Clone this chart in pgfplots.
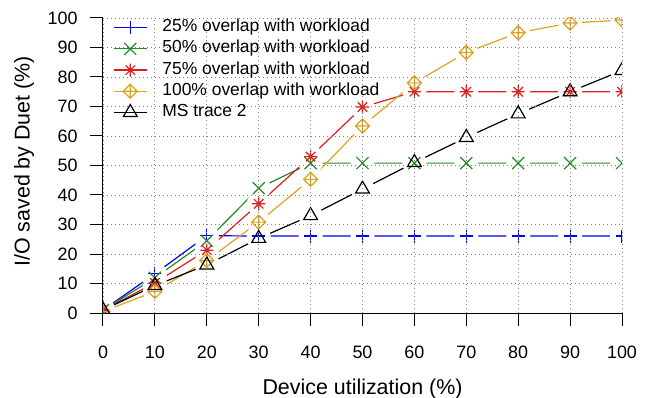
\documentclass[border=0pt]{standalone}
\usepackage{pgfplots}
\usepackage{pgfplotstable}
\pgfplotsset{compat=1.18}
\usepackage{fontspec}
\setmainfont{Liberation Sans}
\usetikzlibrary{plotmarks}

\definecolor{cblue}{RGB}{0,0,255}
\definecolor{cgreen}{RGB}{34,139,34}
\definecolor{cred}{RGB}{220,30,30}
\definecolor{cgold}{RGB}{218,165,32}

\pgfdeclareplotmark{dplus}{%
  \pgfpathmoveto{\pgfqpoint{0pt}{\pgfplotmarksize}}%
  \pgfpathlineto{\pgfqpoint{\pgfplotmarksize}{0pt}}%
  \pgfpathlineto{\pgfqpoint{0pt}{-\pgfplotmarksize}}%
  \pgfpathlineto{\pgfqpoint{-\pgfplotmarksize}{0pt}}%
  \pgfpathclose
  \pgfpathmoveto{\pgfqpoint{0pt}{\pgfplotmarksize}}%
  \pgfpathlineto{\pgfqpoint{0pt}{-\pgfplotmarksize}}%
  \pgfpathmoveto{\pgfqpoint{-\pgfplotmarksize}{0pt}}%
  \pgfpathlineto{\pgfqpoint{\pgfplotmarksize}{0pt}}%
  \pgfusepathqstroke
}
\pgfdeclareplotmark{star8}{%
  \pgfpathmoveto{\pgfqpoint{-\pgfplotmarksize}{0pt}}%
  \pgfpathlineto{\pgfqpoint{\pgfplotmarksize}{0pt}}%
  \pgfpathmoveto{\pgfqpoint{0pt}{-\pgfplotmarksize}}%
  \pgfpathlineto{\pgfqpoint{0pt}{\pgfplotmarksize}}%
  \pgfpathmoveto{\pgfqpoint{-0.72\pgfplotmarksize}{-0.72\pgfplotmarksize}}%
  \pgfpathlineto{\pgfqpoint{0.72\pgfplotmarksize}{0.72\pgfplotmarksize}}%
  \pgfpathmoveto{\pgfqpoint{-0.72\pgfplotmarksize}{0.72\pgfplotmarksize}}%
  \pgfpathlineto{\pgfqpoint{0.72\pgfplotmarksize}{-0.72\pgfplotmarksize}}%
  \pgfusepathqstroke
}
% a filled disc, never stroked: it blanks the line round each point
\pgfdeclareplotmark{gapdisc}{%
  \pgfpathcircle{\pgfpointorigin}{\pgfplotmarksize}%
  \pgfusepathqfill
}

\pgfplotstableread{
x y
0 1
10 13.3
20 26.2
30 26.1
40 26.1
50 26.1
60 26.1
70 26.1
80 26.1
90 26.1
100 26.1
}\tA
\pgfplotstableread{
x y
0 1
10 11.9
20 24.5
30 42.3
40 50.8
50 50.8
60 50.8
70 50.8
80 50.8
90 50.8
100 50.8
}\tB
\pgfplotstableread{
x y
0 1
10 10.2
20 21.3
30 37
40 53
50 69.8
60 75
70 75
80 75
90 75
100 75
}\tC
\pgfplotstableread{
x y
0 0.5
10 7.3
20 17.8
30 30.8
40 45.3
50 63.4
60 78
70 88.3
80 95
90 98.3
100 99.3
}\tD
\pgfplotstableread{
x y
0 1
10 9.3
20 16.3
30 25.3
40 33
50 42
60 51
70 59.5
80 67.5
90 75
100 82.2
}\tE

\begin{document}
\begin{tikzpicture}
\path[use as bounding box] (-103bp,-85bp) rectangle (546bp,313bp);
\begin{axis}[
  axis on top,
  at={(0,0)}, anchor=south west,
  scale only axis, width=519bp, height=295bp,
  xmin=0, xmax=100, ymin=0, ymax=100,
  xtick={0,10,...,100}, ytick={0,10,...,100},
  axis x line=bottom, axis y line=left,
  axis line style={-, line width=1bp, black},
  tick align=outside, major tick length=13bp,
  tick style={black, line width=1bp},
  grid=major, grid style={gray, line width=0.8bp, dash pattern=on 0.8bp off 3.2bp},
  ticklabel style={font=\fontsize{18}{20}\selectfont},
  xticklabel style={yshift=-16bp},
  yticklabel={\pgfmathprintnumber{\tick}\kern9bp},
  /pgf/number format/assume math mode=true,
  xlabel={Device utilization (\%)},
  ylabel={I/O saved by Duet (\%)},
  label style={font=\fontsize{21.5}{24}\selectfont},
  xlabel style={at={(axis description cs:0.5,-0.276)}, anchor=base},
  ylabel style={at={(axis description cs:-0.152,0.514)}, anchor=center},
  clip marker paths=true,
  legend style={at={(axis description cs:0,1)}, anchor=north west,
    xshift=10bp, yshift=-1bp, draw=none, fill=none,
    font=\fontsize{17.5}{20}\selectfont, row sep=4.2bp, column sep=15bp,
    inner sep=0pt, nodes={inner sep=0pt, text height=12.5bp, text depth=4.5bp},
    cells={anchor=west}},
  legend image code/.code={
    \draw[#1, mark=none] (0bp,0bp) -- (33bp,0bp);
    \draw[#1] plot coordinates {(16.5bp,0bp)};
  },
  gap/.style={white, only marks, mark=gapdisc, mark size=12bp, forget plot,
    mark options={white, fill=white}},
]
% lines
\addplot[cblue, line width=1.2bp, forget plot] table {\tA};
\addplot[cgreen, line width=1.2bp, forget plot] table {\tB};
\addplot[cred, line width=1.2bp, forget plot] table {\tC};
\addplot[cgold, line width=1.2bp, forget plot] table {\tD};
\addplot[black, line width=1.2bp, forget plot] table {\tE};
% gaps round the points
\addplot[gap] table {\tA};
\addplot[gap] table {\tB};
\addplot[gap] table {\tC};
\addplot[gap] table {\tD};
\addplot[gap] table {\tE};
% marks
\addplot[cblue, only marks, mark=+, mark size=6.5bp, line width=1.2bp] table {\tA};
\addlegendentry{25\% overlap with workload}
\addplot[cgreen, only marks, mark=x, mark size=8.5bp, line width=1.2bp] table {\tB};
\addlegendentry{50\% overlap with workload}
\addplot[cred, only marks, mark=star8, mark size=6.5bp, line width=1.2bp] table {\tC};
\addlegendentry{75\% overlap with workload}
\addplot[cgold, only marks, mark=dplus, mark size=7bp, line width=1.2bp] table {\tD};
\addlegendentry{100\% overlap with workload}
\addplot[black, only marks, mark=triangle, mark size=8bp, line width=1.2bp] table {\tE};
\addlegendentry{MS trace 2}
\end{axis}
\end{tikzpicture}
\end{document}
